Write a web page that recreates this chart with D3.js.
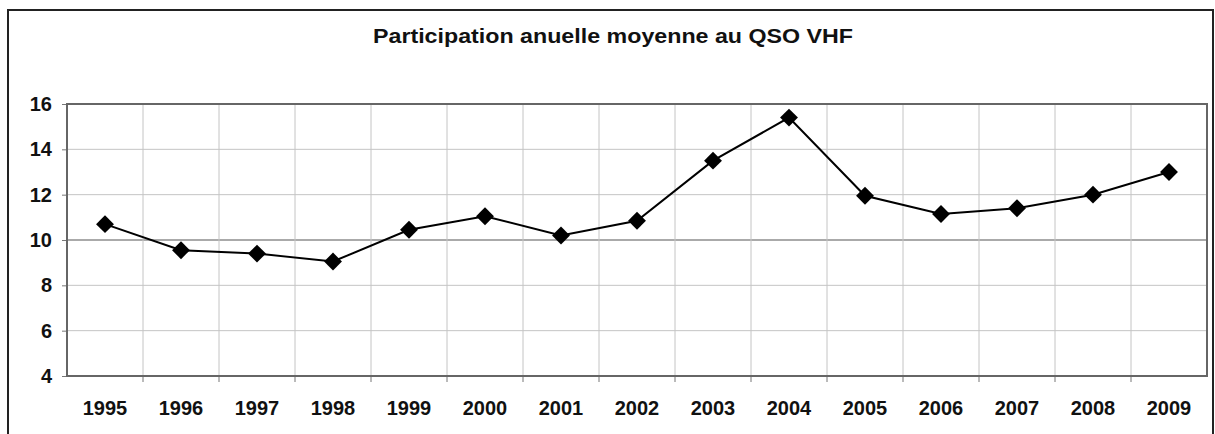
<!DOCTYPE html>
<html>
<head>
<meta charset="utf-8">
<script src="https://cdn.jsdelivr.net/npm/d3@7"></script>
<style>
  body { margin: 0; background: #fff; }
  svg { display: block; font-family: "Liberation Sans", Arial, sans-serif; }
</style>
</head>
<body>
<div id="chart"></div>
<script>
// data
const chartTitle = "Participation anuelle moyenne au QSO VHF";
const years = ["1995", "1996", "1997", "1998", "1999", "2000", "2001", "2002",
               "2003", "2004", "2005", "2006", "2007", "2008", "2009"];
const participation = [10.7, 9.55, 9.4, 9.05, 10.45, 11.05, 10.2, 10.85,
                       13.5, 15.4, 11.95, 11.15, 11.4, 12.0, 13.0];
const yTicks = [4, 6, 8, 10, 12, 14, 16];

const W = 1215, H = 434;
const margin = {top: 104, right: 8, bottom: 58, left: 67};
const width = W - margin.left - margin.right;
const height = H - margin.top - margin.bottom;

const svg = d3.select("#chart").append("svg")
  .attr("width", W)
  .attr("height", H);

// outer frame
svg.append("rect")
  .attr("x", 8).attr("y", 10)
  .attr("width", 1205).attr("height", 440)
  .attr("fill", "none")
  .attr("stroke", "#222")
  .attr("stroke-width", 2);

svg.append("text")
  .attr("x", 613).attr("y", 43)
  .attr("text-anchor", "middle")
  .attr("font-size", 21)
  .attr("font-weight", "bold")
  .attr("fill", "#111")
  .attr("textLength", 480)
  .attr("lengthAdjust", "spacingAndGlyphs")
  .text(chartTitle);

const g = svg.append("g")
  .attr("transform", `translate(${margin.left},${margin.top})`);

const x = d3.scaleBand().domain(years).range([0, width]);
const y = d3.scaleLinear().domain([4, 16]).range([height, 0]);

// horizontal grid
g.selectAll(".hgrid")
  .data(yTicks)
  .enter().append("line")
  .attr("class", "hgrid")
  .attr("x1", 0).attr("x2", width)
  .attr("y1", d => y(d)).attr("y2", d => y(d))
  .attr("stroke", d => d === 10 ? "#aaa" : "#c4c4c4")
  .attr("stroke-width", d => d === 10 ? 2 : 1);

// vertical grid at category boundaries
g.selectAll(".vgrid")
  .data(years.slice(1))
  .enter().append("line")
  .attr("class", "vgrid")
  .attr("x1", d => x(d)).attr("x2", d => x(d))
  .attr("y1", 0).attr("y2", height)
  .attr("stroke", "#c4c4c4");

// x axis: labels + boundary ticks
const xAxis = g.append("g")
  .attr("transform", `translate(0,${height})`);
xAxis.selectAll(".xtick")
  .data(years.slice(1))
  .enter().append("line")
  .attr("x1", d => x(d)).attr("x2", d => x(d))
  .attr("y1", 0).attr("y2", 6)
  .attr("stroke", "#777");
xAxis.selectAll(".xlabel")
  .data(years)
  .enter().append("text")
  .attr("x", d => x(d) + x.bandwidth() / 2)
  .attr("y", 39)
  .attr("text-anchor", "middle")
  .attr("font-size", 20)
  .attr("font-weight", "bold")
  .attr("fill", "#111")
  .text(d => d);

// y axis
const yAxis = g.append("g")
  .call(d3.axisLeft(y).tickValues(yTicks).tickSize(5).tickPadding(10));
yAxis.select(".domain").remove();
yAxis.selectAll(".tick line").attr("stroke", "#777");
yAxis.selectAll(".tick text")
  .attr("font-size", 20)
  .attr("font-weight", "bold")
  .attr("fill", "#111")
  .attr("font-family", "'Liberation Sans', Arial, sans-serif");

// plot border
g.append("rect")
  .attr("width", width).attr("height", height)
  .attr("fill", "none")
  .attr("stroke", "#666")
  .attr("stroke-width", 2);

const cx = (d, i) => x(years[i]) + x.bandwidth() / 2;

const line = d3.line()
  .x((d, i) => cx(d, i))
  .y(d => y(d));

g.append("path")
  .datum(participation)
  .attr("d", line)
  .attr("fill", "none")
  .attr("stroke", "#000")
  .attr("stroke-width", 2);

g.selectAll(".dot")
  .data(participation)
  .enter().append("path")
  .attr("class", "dot")
  .attr("d", d3.symbol().type(d3.symbolSquare).size(160))
  .attr("transform", (d, i) => `translate(${cx(d, i)},${y(d)}) rotate(45)`)
  .attr("fill", "#000");
</script>
</body>
</html>
